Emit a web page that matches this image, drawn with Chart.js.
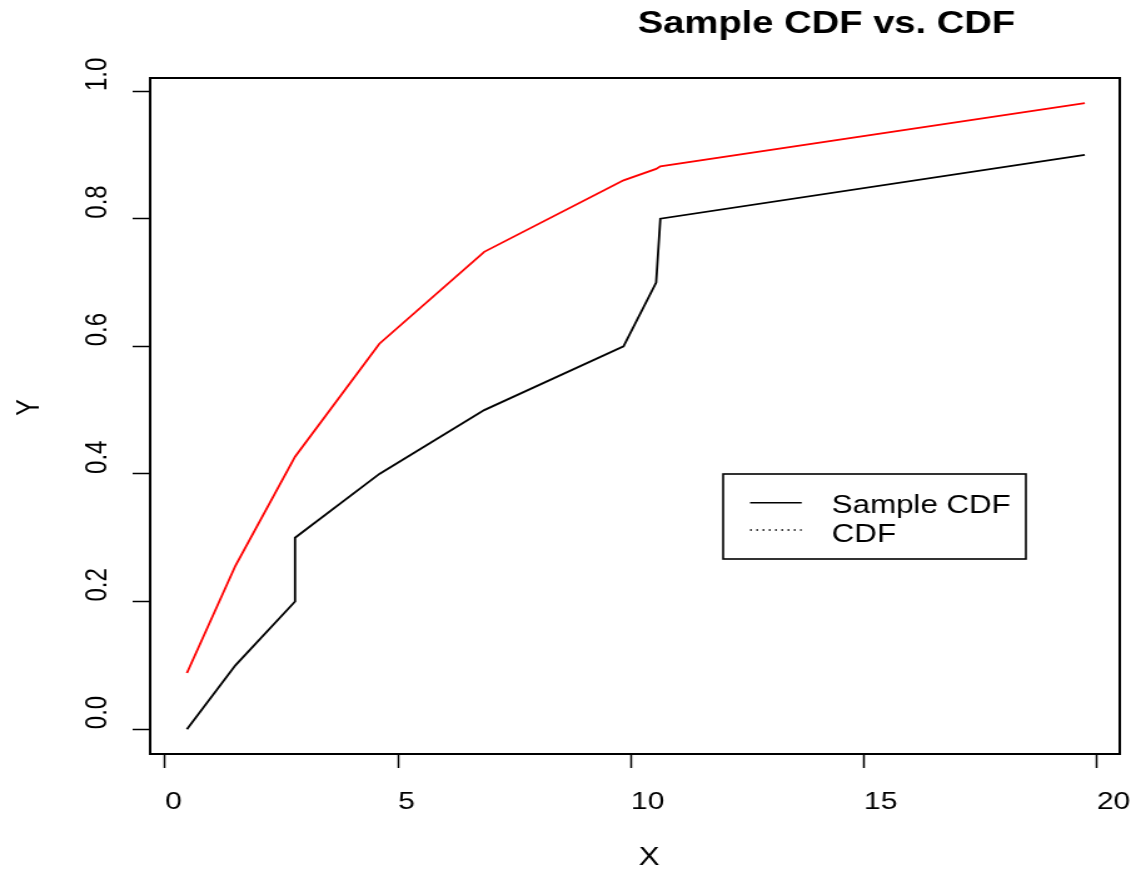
<!DOCTYPE html>
<html>
<head>
<meta charset="utf-8">
<script src="https://cdn.jsdelivr.net/npm/chart.js@4.4.1/dist/chart.umd.min.js"></script>
<style>
  html, body { margin: 0; padding: 0; background: #ffffff; overflow: hidden; }
  #c { display: block; }
</style>
</head>
<body>
<canvas id="c" width="908" height="870" style="width:1136px;height:870px;"></canvas>
<script>
// ---- data ----
const chartTitle = "Sample CDF vs. CDF";
const xAxisTitle = "X";
const yAxisTitle = "Y";
const sampleX = [0.47, 1.51, 2.79, 2.79, 4.60, 6.85, 9.84, 10.54, 10.63, 19.74];
const sampleCdfY = [0.0, 0.1, 0.2, 0.3, 0.4, 0.5, 0.6, 0.7, 0.8, 0.9];
const theoreticalCdfY = [0.088, 0.256, 0.427, 0.427, 0.604, 0.748, 0.860, 0.878, 0.882, 0.981];
const seriesLabels = ["Sample CDF", "CDF"];
const legendDash = [[], [1.5, 3.5]];
const xTicks = [0, 5, 10, 15, 20];
const yTicks = [0.0, 0.2, 0.4, 0.6, 0.8, 1.0];

const FONT = "'Liberation Sans', Arial, Helvetica, sans-serif";

const toPoints = (xs, ys) => xs.map((x, i) => ({ x: x, y: ys[i] }));

const bgPlugin = {
  id: 'bg',
  beforeDraw(chart) {
    const ctx = chart.ctx;
    ctx.save();
    ctx.fillStyle = '#ffffff';
    ctx.fillRect(0, 0, chart.width, chart.height);
    ctx.restore();
  }
};

const framePlugin = {
  id: 'frame',
  afterDraw(chart) {
    const ctx = chart.ctx;
    const a = chart.chartArea;
    ctx.save();
    // plot box
    ctx.strokeStyle = '#000';
    ctx.lineWidth = 2;
    ctx.strokeRect(a.left, a.top, a.right - a.left, a.bottom - a.top);
    // title
    ctx.fillStyle = '#000';
    ctx.font = "bold 30.5px " + FONT;
    ctx.textAlign = 'center';
    ctx.textBaseline = 'alphabetic';
    ctx.fillText(chartTitle, 660.6, 33.3);
    // axis titles
    ctx.font = "25px " + FONT;
    ctx.fillText(xAxisTitle, 518.8, 865);
    ctx.save();
    ctx.translate(31.2, 407.5);
    ctx.rotate(-Math.PI / 2);
    ctx.fillText(yAxisTitle, 0, 0);
    ctx.restore();
    // legend box
    ctx.lineWidth = 1.6;
    ctx.strokeRect(578, 474, 242, 85);
    const rows = [502.7, 530];
    const baselines = [513.3, 541.7];
    ctx.font = "25px " + FONT;
    ctx.textAlign = 'left';
    chart.data.datasets.forEach((ds, i) => {
      ctx.beginPath();
      ctx.setLineDash(legendDash[i]);
      ctx.lineWidth = 1.6;
      ctx.strokeStyle = '#000';
      ctx.moveTo(599.5, rows[i]);
      ctx.lineTo(640.8, rows[i]);
      ctx.stroke();
      ctx.setLineDash([]);
      ctx.fillText(ds.label, 664.8, baselines[i]);
    });
    ctx.restore();
  }
};

new Chart(document.getElementById('c'), {
  type: 'line',
  data: {
    datasets: [
      {
        label: seriesLabels[0],
        data: toPoints(sampleX, sampleCdfY),
        borderColor: '#000000',
        borderWidth: 1.8,
        pointRadius: 0,
        tension: 0,
        fill: false
      },
      {
        label: seriesLabels[1],
        data: toPoints(sampleX, theoreticalCdfY),
        borderColor: '#ff0000',
        borderWidth: 1.8,
        pointRadius: 0,
        tension: 0,
        fill: false
      }
    ]
  },
  options: {
    responsive: false,
    animation: false,
    devicePixelRatio: 1,
    layout: { padding: { left: 66, right: 13, top: 78, bottom: 0 } },
    plugins: {
      legend: { display: false },
      title: { display: false },
      tooltip: { enabled: false }
    },
    scales: {
      x: {
        type: 'linear',
        min: -0.32,
        max: 20.49,
        afterFit(scale) { scale.height = 116; scale.paddingLeft = 0; scale.paddingRight = 0; },
        afterBuildTicks(scale) { scale.ticks = xTicks.map(v => ({ value: v })); },
        border: { display: false },
        grid: {
          drawOnChartArea: false,
          drawTicks: true,
          tickLength: 14,
          tickWidth: 1.5,
          tickColor: '#000'
        },
        ticks: {
          includeBounds: false,
          align: 'start',
          padding: 20,
          color: '#000',
          font: { family: FONT, size: 24 },
          maxRotation: 0,
          minRotation: 0,
          callback: v => String(v)
        }
      },
      y: {
        type: 'linear',
        min: -0.0389,
        max: 1.0204,
        afterFit(scale) { scale.width = 54; scale.paddingTop = 0; scale.paddingBottom = 0; },
        afterBuildTicks(scale) { scale.ticks = yTicks.map(v => ({ value: v })); },
        border: { display: false },
        grid: {
          drawOnChartArea: false,
          drawTicks: true,
          tickLength: 14,
          tickWidth: 1.5,
          tickColor: '#000'
        },
        ticks: {
          includeBounds: false,
          crossAlign: 'far',
          align: 'start',
          minRotation: 90,
          maxRotation: 90,
          color: '#000',
          font: { family: FONT, size: 24 },
          callback: v => Number(v).toFixed(1)
        }
      }
    }
  },
  plugins: [bgPlugin, framePlugin]
});
</script>
</body>
</html>
